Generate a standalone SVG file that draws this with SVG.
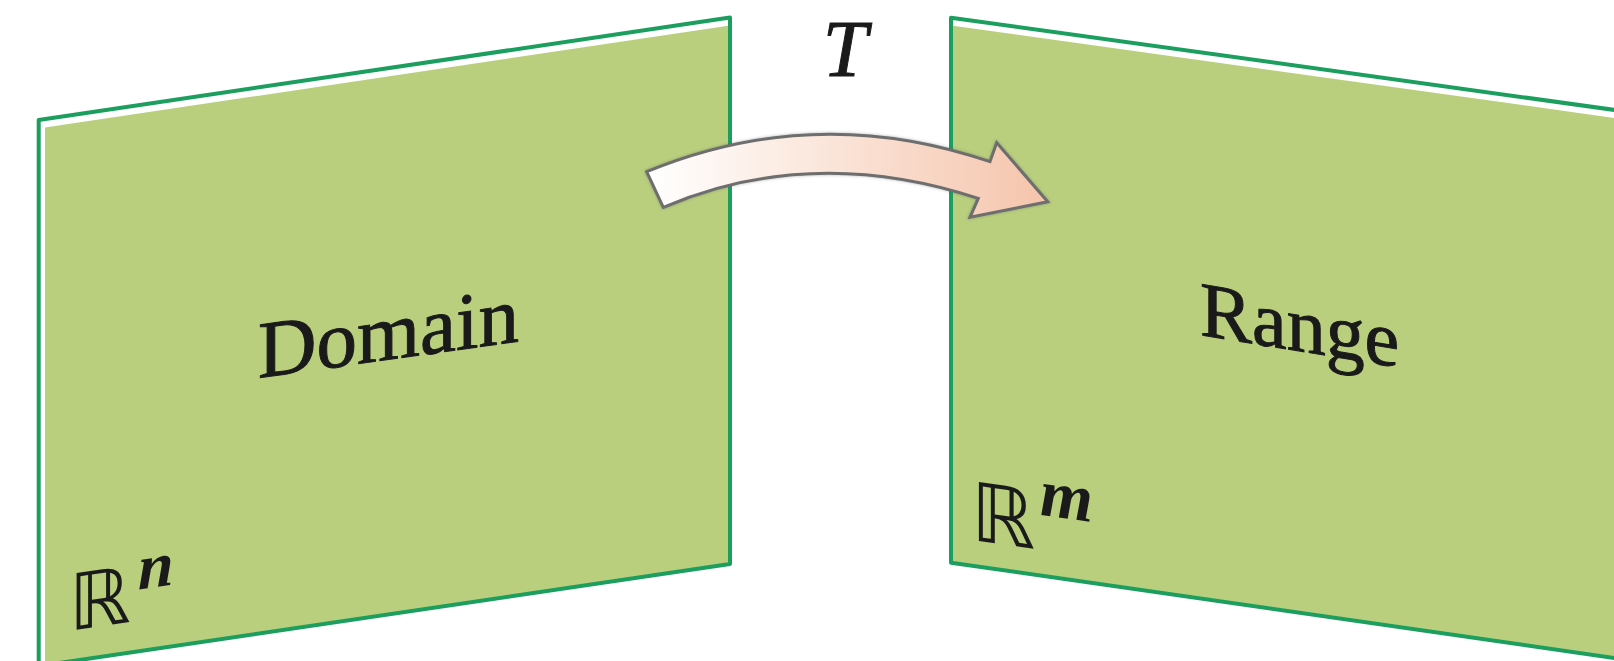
<svg xmlns="http://www.w3.org/2000/svg" width="1614" height="661" viewBox="0 0 1614 661">
  <style>
    .edge { fill: #ffffff; stroke: none; }
    .face { fill: #b9cf7e; stroke: none; }
    .rim { fill: none; stroke: #1b9e5e; stroke-width: 4; stroke-linejoin: round; }
    .lbl { font-family: "Liberation Serif", "Times New Roman", serif; fill: #1a1a1a; stroke: #1a1a1a; stroke-width: 1; }
    .bb { font-family: "DejaVu Sans", sans-serif; fill: #1a1a1a; }
    .mi { font-family: "Liberation Serif", "Times New Roman", serif; font-style: italic; font-weight: bold; fill: #1a1a1a; }
  </style>
  <defs>
    <linearGradient id="arrowGrad" gradientUnits="userSpaceOnUse" x1="650" y1="0" x2="1045" y2="0">
      <stop offset="0" stop-color="#ffffff"/>
      <stop offset="1" stop-color="#f5c5ac"/>
    </linearGradient>
    <filter id="shadow" x="-10%" y="-30%" width="120%" height="160%">
      <feDropShadow dx="0" dy="0" stdDeviation="1.5" flood-color="#555555" flood-opacity="0.45"/>
    </filter>
  </defs>

  <g id="domain">
    <polygon class="edge" points="38.7,120 730,17.5 730,564 38.7,666"/>
    <polygon class="face" points="45,127.5 730,25.5 730,564 45,665"/>
    <polygon class="rim" points="38.7,120 730,17.5 730,564 38.7,666"/>
    <text class="lbl" font-size="81" transform="translate(258,378) skewY(-8)">Domain</text>
    <g transform="translate(76,630) skewY(-8.5)">
      <text class="bb" x="-7" y="0" font-size="78">ℝ</text>
      <text class="mi" x="62" y="-31" font-size="64">n</text>
    </g>
  </g>

  <g id="range">
    <polygon class="edge" points="951,17.7 1640,113.5 1640,661.7 951,562.7"/>
    <polygon class="face" points="951,25.5 1640,121.5 1640,661.7 951,562.7"/>
    <polygon class="rim" points="951,17.7 1640,113.5 1640,661.7 951,562.7"/>
    <text class="lbl" font-size="78" transform="translate(1200,335) skewY(9.2)">Range</text>
    <g transform="translate(978,541) skewY(8)">
      <text class="bb" x="-7" y="0" font-size="81">ℝ</text>
      <text class="mi" x="62" y="-35" font-size="68">m</text>
    </g>
  </g>

  <g id="connectors">
    <path d="M646.7,171.7 Q815.6,102 990,161.7 L996.7,142.7 L1047.7,201.7 L970,217.3 L978.3,198.3 Q812.6,143.8 663.3,207.3 Z"
          fill="url(#arrowGrad)" stroke="#6e6e6e" stroke-width="3" stroke-linejoin="miter" filter="url(#shadow)"/>
    <text class="lbl" font-style="italic" font-size="80" x="845" y="76" text-anchor="middle">T</text>
  </g>
</svg>
